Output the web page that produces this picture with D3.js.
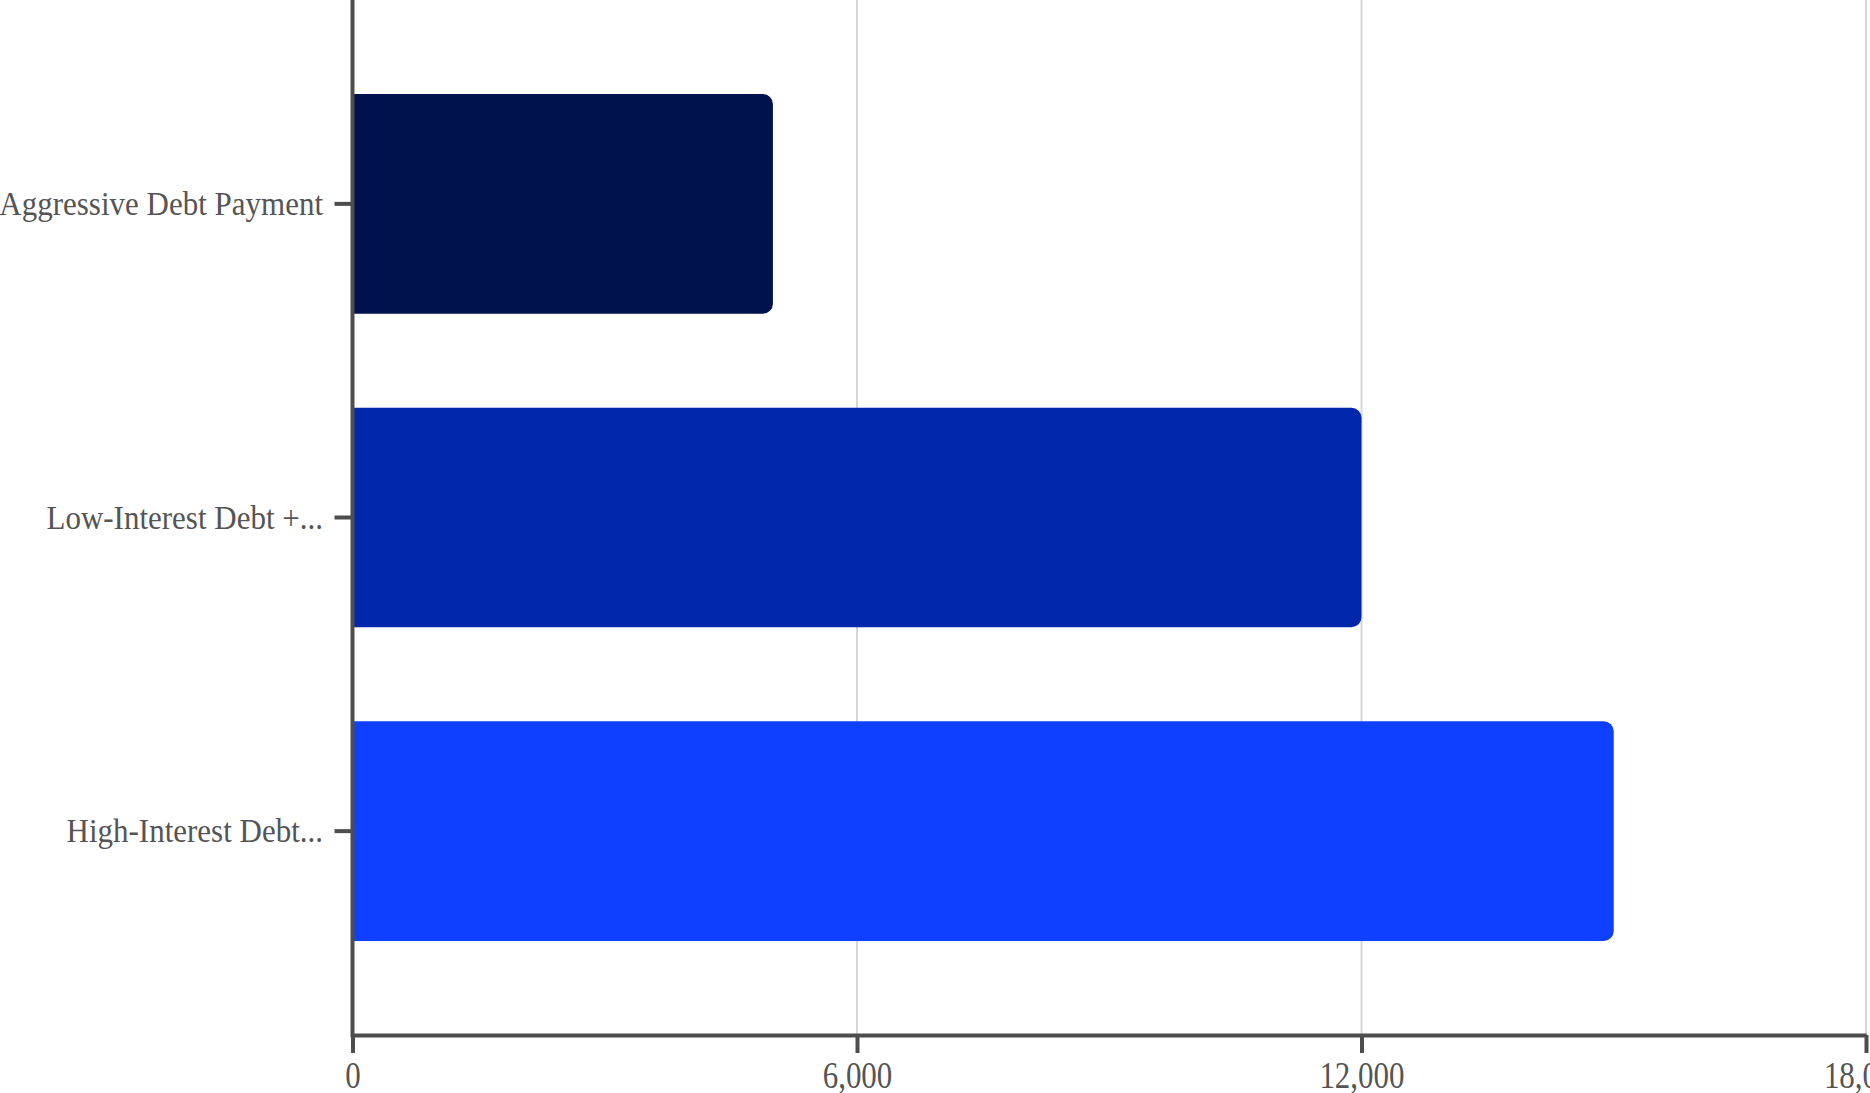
<!DOCTYPE html>
<html>
<head>
<meta charset="utf-8">
<script src="https://cdn.jsdelivr.net/npm/d3@7"></script>
<style>
  html, body { margin: 0; padding: 0; background: #fff; overflow: hidden; }
</style>
</head>
<body>
<div id="chart"></div>
<script>
// data
var categories = ["Aggressive Debt Payment", "Low-Interest Debt +...", "High-Interest Debt..."];
var values = [5000, 12000, 15000];
var barColors = ["#00124d", "#0026ab", "#0f40ff"];
var xTicks = [0, 6000, 12000, 18000];

var width = 1870, height = 1093;
var margin = {top: 0, right: 4, bottom: 58, left: 352.5};

var svg = d3.select("#chart")
  .append("svg")
  .attr("width", width)
  .attr("height", height);

var x = d3.scaleLinear()
  .domain([0, 18000])
  .range([margin.left, 1866]);

var y = d3.scaleBand()
  .domain(categories)
  .range([margin.top, height - margin.bottom])
  .padding(0.3);

var color = d3.scaleOrdinal(categories, barColors);

// grid lines
svg.append("g")
  .selectAll("line")
  .data(xTicks.slice(1))
  .join("line")
  .attr("x1", d => x(d))
  .attr("x2", d => x(d))
  .attr("y1", margin.top)
  .attr("y2", height - margin.bottom)
  .style("stroke", "#d6d6d6")
  .style("stroke-width", 2);

// bars with rounded right end
var r = 10;
function barPath(d, i) {
  var x0 = x(0), x1 = x(values[i]), y0 = y(d), h = y.bandwidth();
  return `M${x0},${y0}H${x1 - r}A${r},${r} 0 0 1 ${x1},${y0 + r}` +
         `V${y0 + h - r}A${r},${r} 0 0 1 ${x1 - r},${y0 + h}H${x0}Z`;
}

svg.append("g")
  .selectAll("path")
  .data(categories)
  .join("path")
  .attr("d", barPath)
  .style("fill", d => color(d));

// x axis
var xAxis = svg.append("g")
  .attr("transform", `translate(0,${height - margin.bottom})`)
  .call(d3.axisBottom(x).tickValues(xTicks).tickFormat(d3.format(",")).tickSize(18).tickSizeOuter(0));

// y axis
var yAxis = svg.append("g")
  .attr("transform", `translate(${margin.left},0)`)
  .call(d3.axisLeft(y).tickSize(18).tickSizeOuter(0));

[xAxis, yAxis].forEach(function(g) {
  g.select(".domain").style("stroke", "#4d4d4d").style("stroke-width", 4);
  g.selectAll(".tick line").style("stroke", "#4d4d4d").style("stroke-width", 4);
  g.selectAll(".tick text")
    .style("fill", "#555")
    .style("font-family", "'Liberation Serif', 'Times New Roman', serif")
    .style("font-size", "31px");
});

// the labels in the original are drawn slightly taller than wide
xAxis.selectAll(".tick text")
  .attr("y", 0).attr("dy", 0)
  .attr("transform", "translate(0,52.5) scale(1,1.2)");

yAxis.selectAll(".tick text")
  .attr("x", 0).attr("dy", 0)
  .attr("transform", "translate(-29.5,11.3) scale(1,1.1)");

// y axis line runs from the top down through the x axis
yAxis.select(".domain").attr("d", `M0,0V${height - margin.bottom + 2}`);
</script>
</body>
</html>
